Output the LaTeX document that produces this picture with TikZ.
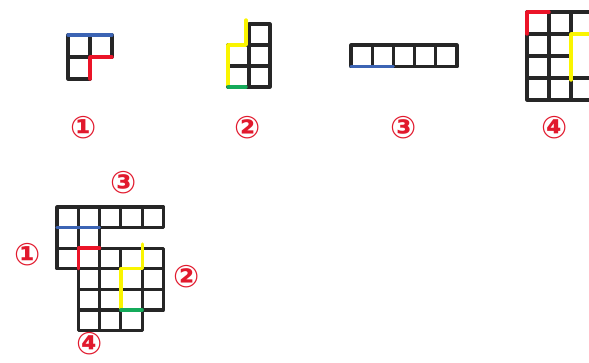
\documentclass[tikz,border=0pt]{standalone}
\usepackage{fontspec}
\newfontfamily\circfont{DejaVu Sans}
\definecolor{pblue}{RGB}{60,100,180}
\definecolor{pred}{RGB}{235,20,40}
\definecolor{pyellow}{RGB}{250,245,0}
\definecolor{pgreen}{RGB}{20,170,90}
\definecolor{plabel}{RGB}{225,25,45}
\tikzset{
  gridline/.style={draw=black!85, line width=3.1pt, line join=round},
  mark blue/.style={draw=pblue, line width=3.2pt, line cap=round},
  mark red/.style={draw=pred, line width=3.4pt, line cap=round, line join=round},
  mark yellow/.style={draw=pyellow, line width=3.4pt, line cap=round, line join=round},
  mark green/.style={draw=pgreen, line width=3.4pt, line cap=round},
  numlabel/.style={text=plabel, font=\circfont\bfseries\fontsize{31}{31}\selectfont, inner sep=0pt}
}
\begin{document}
\begin{tikzpicture}[x=1pt,y=-1pt]
\useasboundingbox (0,0) rectangle (589,363);
% ---------- piece 1
\begin{scope}[shift={(68,35)}]
  \foreach \c/\r in {0/0,1/0,0/1} \draw[gridline] (\c*22,\r*22) rectangle ++(22,22);
  \draw[mark blue] (0,0) -- (44,0);
  \draw[mark red] (22,44) -- (22,22) -- (44,22);
\end{scope}
% ---------- piece 2
\begin{scope}[shift={(228,24)}]
  \foreach \c/\r in {1/0,1/1,1/2,0/1,0/2} \draw[gridline] (\c*21,\r*21) rectangle ++(21,21);
  \draw[mark yellow] (0,61) -- (0,21) -- (18,21) -- (18,-4);
  \draw[mark green] (0,63) -- (18,63);
\end{scope}
% ---------- piece 3
\begin{scope}[shift={(351,45)}]
  \foreach \c in {0,...,4} \draw[gridline] (\c*21.2,0) rectangle ++(21.2,21.8);
  \draw[mark blue] (0,21.8) -- (42.4,21.8);
\end{scope}
% ---------- piece 4
\begin{scope}[shift={(527,12)}]
  \foreach \c/\r in {0/0,1/0,2/0,0/1,1/1,0/2,1/2,0/3,1/3,2/3} \draw[gridline] (\c*22,\r*22) rectangle ++(22,22);
  \draw[mark red] (0,22) -- (0,0) -- (22,0);
  \draw[mark yellow] (44,68) -- (44,22) -- (66,22);
\end{scope}
% ---------- combined figure
\begin{scope}[shift={(57,207)}]
  \foreach \c/\r in {0/0,1/0,2/0,3/0,4/0,0/1,1/1,0/2,1/2,2/2,3/2,4/2,1/3,2/3,3/3,4/3,1/4,2/4,3/4,4/4,1/5,2/5,3/5}
    \draw[gridline] (\c*21.3,\r*20.6) rectangle ++(21.3,20.6);
  \draw[mark blue] (0,20.6) -- (42.6,20.6);
  \draw[mark red] (21.3,61.8) -- (21.3,41.2) -- (42.6,41.2);
  \draw[mark yellow] (85.2,37) -- (85.2,61.8) -- (63.9,61.8) -- (63.9,101);
  \draw[mark green] (63.9,103) -- (85.2,103);
\end{scope}
% ---------- labels
\node[numlabel] (l1) at (84,128) {①};
\node[numlabel] (l2) at (248,128) {②};
\node[numlabel] (l3) at (404,128) {③};
\node[numlabel] (l4) at (555,128) {④};
\node[numlabel] (c3) at (124,183) {③};
\node[numlabel] (c1) at (28,255) {①};
\node[numlabel] (c2) at (187,277) {②};
\node[numlabel] (c4) at (90,344) {④};
\end{tikzpicture}
\end{document}
